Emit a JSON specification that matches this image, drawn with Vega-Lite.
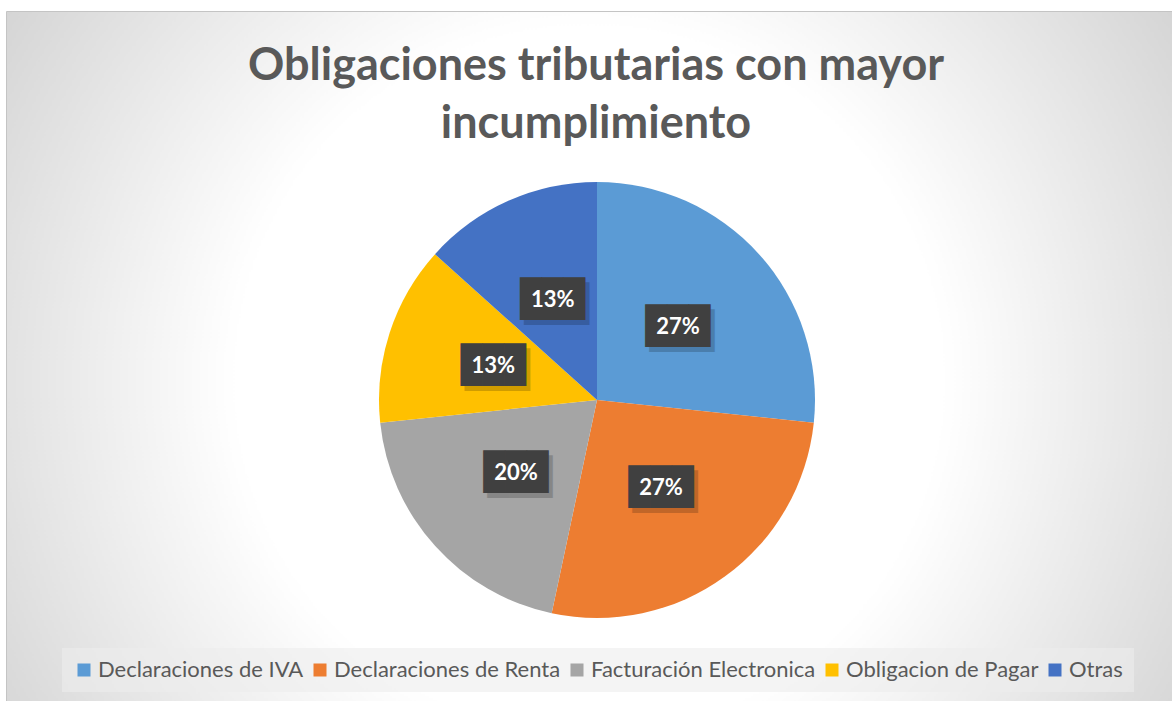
{
  "$schema": "https://vega.github.io/schema/vega-lite/v6.json",
  "width": 1172,
  "height": 701,
  "autosize": {"type": "fit", "contains": "padding"},
  "padding": {"top": 11, "left": 6, "right": 0, "bottom": 0},
  "background": "#ffffff",
  "view": {
    "fill": {"expr": "{gradient: 'radial', x1: 0.5, y1: 0.52, r1: 0, x2: 0.5, y2: 0.52, r2: 0.72, stops: [{offset: 0, color: '#ffffff'}, {offset: 0.42, color: '#ffffff'}, {offset: 1, color: '#c2c2c2'}]}"},
    "stroke": "#c4c4c4",
    "strokeWidth": 1
  },
  "title": {
    "text": ["Obligaciones tributarias con mayor", "incumplimiento"],
    "font": "Lato",
    "fontSize": 45,
    "fontWeight": "bold",
    "color": "#595959",
    "anchor": "middle",
    "frame": "group",
    "offset": -136,
    "lineHeight": 58,
    "dx": 7
  },
  "data": {
    "values": [
      {"categoria": "Declaraciones de IVA", "valor": 4, "etiqueta": "27%", "orden": 1},
      {"categoria": "Declaraciones de Renta", "valor": 4, "etiqueta": "27%", "orden": 2},
      {"categoria": "Facturación Electronica", "valor": 3, "etiqueta": "20%", "orden": 3},
      {"categoria": "Obligacion de Pagar", "valor": 2, "etiqueta": "13%", "orden": 4},
      {"categoria": "Otras", "valor": 2, "etiqueta": "13%", "orden": 5}
    ]
  },
  "encoding": {
    "theta": {"field": "valor", "type": "quantitative", "stack": true},
    "order": {"field": "orden", "type": "ordinal"}
  },
  "layer": [
    {
      "mark": {"type": "arc", "outerRadius": 218, "xOffset": 8, "yOffset": 44},
      "encoding": {
        "color": {
          "field": "categoria",
          "type": "nominal",
          "sort": ["Declaraciones de IVA", "Declaraciones de Renta", "Facturación Electronica", "Obligacion de Pagar", "Otras"],
          "scale": {
            "domain": ["Declaraciones de IVA", "Declaraciones de Renta", "Facturación Electronica", "Obligacion de Pagar", "Otras"],
            "range": ["#5B9BD5", "#ED7D31", "#A5A5A5", "#FFC000", "#4472C4"]
          },
          "legend": {
            "orient": "none",
            "legendX": 56,
            "legendY": 637,
            "direction": "horizontal",
            "columns": 5,
            "title": null,
            "symbolType": "square",
            "symbolSize": 169,
            "symbolStrokeWidth": 0,
            "labelFont": "Lato",
            "labelFontSize": 22,
            "labelColor": "#595959",
            "labelLimit": 400,
            "labelOffset": 3,
            "columnPadding": 5,
            "fillColor": "rgba(236,236,236,0.6)",
            "padding": 11
          }
        }
      }
    },
    {
      "mark": {"type": "text", "radius": 109, "xOffset": 12, "yOffset": 49, "font": "DejaVu Sans Mono", "fontSize": 36, "baseline": "middle", "align": "center", "color": "#000000", "opacity": 0.18},
      "encoding": {"text": {"value": "███"}}
    },
    {
      "mark": {"type": "text", "radius": 109, "xOffset": 8, "yOffset": 44, "font": "DejaVu Sans Mono", "fontSize": 36, "baseline": "middle", "align": "center", "color": "#404040"},
      "encoding": {"text": {"value": "███"}}
    },
    {
      "mark": {"type": "text", "radius": 109, "xOffset": 8, "yOffset": 44, "font": "Lato", "fontSize": 22, "fontWeight": "bold", "baseline": "middle", "align": "center", "color": "#ffffff"},
      "encoding": {"text": {"field": "etiqueta", "type": "nominal"}}
    }
  ]
}
